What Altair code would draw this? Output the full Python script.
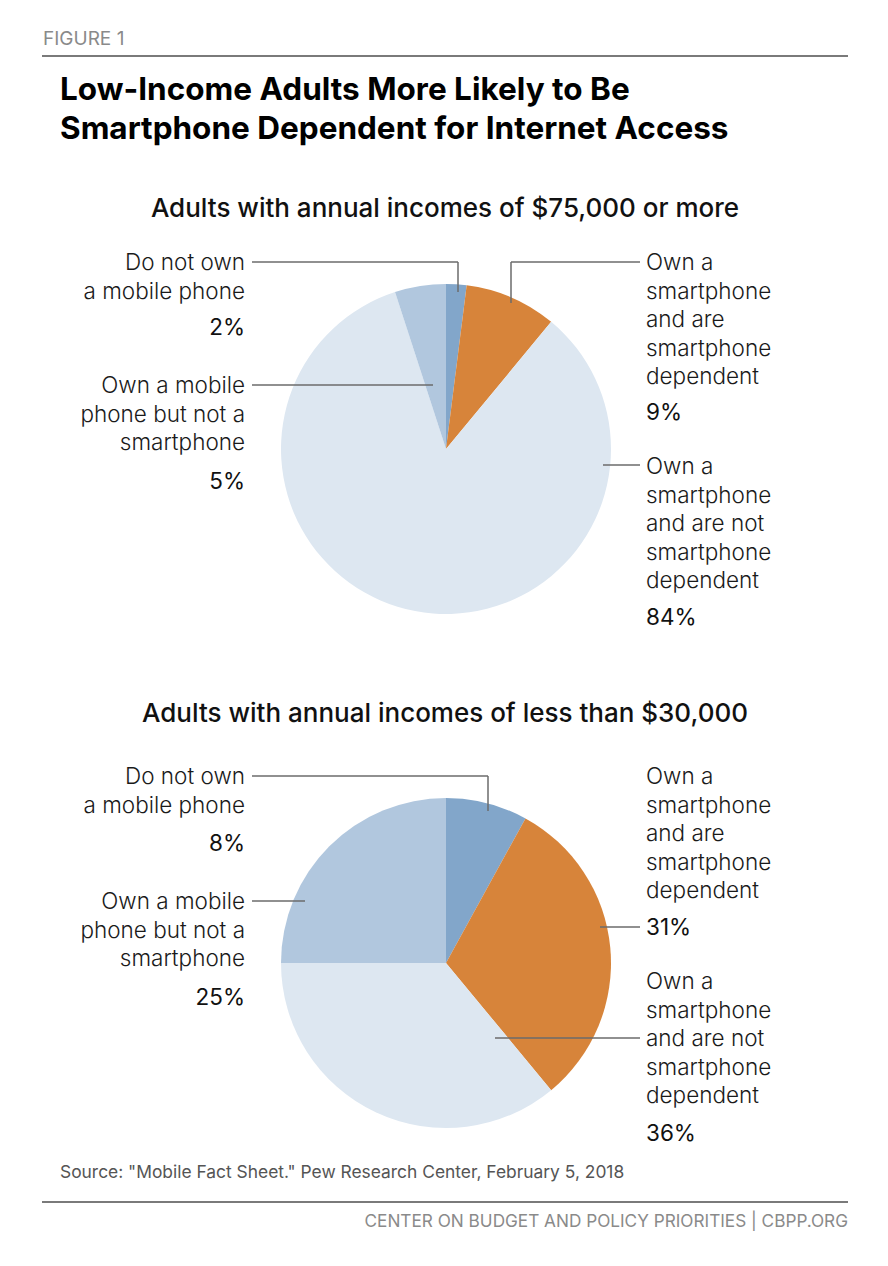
import altair as alt
import pandas as pd

# ---------------- data ----------------
categories = [
    "Do not own a mobile phone",
    "Own a smartphone and are smartphone dependent",
    "Own a smartphone and are not smartphone dependent",
    "Own a mobile phone but not a smartphone",
]
high_income_values = [2, 9, 84, 5]
low_income_values = [8, 31, 36, 25]
slice_colors = ["#82a6ca", "#d7843a", "#dde7f1", "#b1c7de"]

label_left_1 = ["Do not own", "a mobile phone"]
label_left_2 = ["Own a mobile", "phone but not a", "smartphone"]
label_right_1 = ["Own a", "smartphone", "and are", "smartphone", "dependent"]
label_right_2 = ["Own a", "smartphone", "and are not", "smartphone", "dependent"]

title_lines = ["Low-Income Adults More Likely to Be", "Smartphone Dependent for Internet Access"]
subtitle_high = "Adults with annual incomes of $75,000 or more"
subtitle_low = "Adults with annual incomes of less than $30,000"
figure_label = "FIGURE 1"
source_text = 'Source: "Mobile Fact Sheet." Pew Research Center, February 5, 2018'
footer_text = "CENTER ON BUDGET AND POLICY PRIORITIES | CBPP.ORG"

# ---------------- layout ----------------
W, H = 872, 1250
OFF = 8  # page margin
FONT = "Inter"
R = 165
pies = [(446, 449), (446, 963)]
LH = 28.6
LABEL_SIZE = 22.5


def P(v):
    return v - OFF


def pie_df(values):
    return pd.DataFrame({
        "cat": categories,
        "value": values,
        "idx": list(range(len(categories))),
    })


def pct(v):
    return f"{v}%"


def lines_rows(x, y0, lines):
    return [{"x": P(x), "y": P(y0 + i * LH), "text": t} for i, t in enumerate(lines)]


X = alt.X("x:Q", scale=None, axis=None)
Y = alt.Y("y:Q", scale=None, axis=None)

layers = []

# pies
for (cx, cy), vals in zip(pies, [high_income_values, low_income_values]):
    layers.append(
        alt.Chart(pie_df(vals)).mark_arc(radius=R).encode(
            theta=alt.Theta("value:Q", stack=True),
            color=alt.Color("cat:N", scale=alt.Scale(domain=categories, range=slice_colors), legend=None),
            order=alt.Order("idx:Q"),
            x=alt.value(P(cx)),
            y=alt.value(P(cy)),
        )
    )

# leader lines (page coords) : x, y, x2, y2
segments = [
    # top pie
    (252, 262, 458, 262), (458, 262, 458, 292),
    (640, 262, 511, 262), (511, 262, 511, 303),
    (252, 385, 433, 385),
    (603, 465, 640, 465),
    # bottom pie
    (252, 776, 488, 776), (488, 776, 488, 811),
    (252, 901, 305, 901),
    (600, 927, 640, 927),
    (495, 1038, 640, 1038),
]
seg_df = pd.DataFrame([{"x": P(a), "y": P(b), "x2": P(c), "y2": P(d)} for a, b, c, d in segments])
layers.append(
    alt.Chart(seg_df).mark_rule(color="#6b6b6b", strokeWidth=1.5).encode(
        x=X, y=Y, x2="x2:Q", y2="y2:Q"
    )
)

# horizontal rules
rules_df = pd.DataFrame([{"x": P(42), "x2": P(848), "y": P(56)}, {"x": P(42), "x2": P(848), "y": P(1202)}])
layers.append(
    alt.Chart(rules_df).mark_rule(color="#7a7a7a", strokeWidth=2).encode(x=X, x2="x2:Q", y=Y)
)


def text_layer(df, align, size, weight, color, **kw):
    return alt.Chart(df).mark_text(
        align=align, baseline="alphabetic", font=FONT, fontSize=size, fontWeight=weight,
        color=color, **kw,
    ).encode(x=X, y=Y, text="text:N")


# category labels on the left (right-aligned)
left_labels = pd.DataFrame(
    lines_rows(245, 270, label_left_1) + lines_rows(245, 393, label_left_2)
    + lines_rows(245, 784, label_left_1) + lines_rows(245, 909, label_left_2)
)
left_pcts = pd.DataFrame([
    {"x": P(245), "y": P(335), "text": pct(high_income_values[0])},
    {"x": P(245), "y": P(489), "text": pct(high_income_values[3])},
    {"x": P(245), "y": P(851), "text": pct(low_income_values[0])},
    {"x": P(245), "y": P(1005), "text": pct(low_income_values[3])},
])
# category labels on the right (left-aligned)
right_labels = pd.DataFrame(
    lines_rows(646, 270, label_right_1) + lines_rows(646, 474, label_right_2)
    + lines_rows(646, 784, label_right_1) + lines_rows(646, 989, label_right_2)
)
right_pcts = pd.DataFrame([
    {"x": P(646), "y": P(420), "text": pct(high_income_values[1])},
    {"x": P(646), "y": P(625), "text": pct(high_income_values[2])},
    {"x": P(646), "y": P(935), "text": pct(low_income_values[1])},
    {"x": P(646), "y": P(1141), "text": pct(low_income_values[2])},
])

layers.append(text_layer(left_labels, "right", LABEL_SIZE, 300, "#1a1a1a"))
layers.append(text_layer(left_pcts, "right", LABEL_SIZE, 400, "#111111"))
layers.append(text_layer(right_labels, "left", LABEL_SIZE, 300, "#1a1a1a"))
layers.append(text_layer(right_pcts, "left", LABEL_SIZE, 400, "#111111"))

# subtitles
sub_df = pd.DataFrame([
    {"x": P(445), "y": P(217), "text": subtitle_high},
    {"x": P(445), "y": P(722), "text": subtitle_low},
])
layers.append(text_layer(sub_df, "center", 26, 500, "#111111"))

# title
title_df = pd.DataFrame([
    {"x": P(60), "y": P(100), "text": title_lines[0]},
    {"x": P(60), "y": P(139), "text": title_lines[1]},
])
layers.append(text_layer(title_df, "left", 31.5, "bold", "#000000"))

# figure label
fig_df = pd.DataFrame([{"x": P(43), "y": P(45), "text": figure_label}])
layers.append(text_layer(fig_df, "left", 19, 400, "#8a8a8a"))

# source
src_df = pd.DataFrame([{"x": P(60), "y": P(1178), "text": source_text}])
layers.append(text_layer(src_df, "left", 17.4, 400, "#555555"))

# footer
foot_df = pd.DataFrame([{"x": P(848), "y": P(1227), "text": footer_text}])
layers.append(text_layer(foot_df, "right", 17.2, 400, "#8a8a8a"))

chart = alt.layer(*layers).properties(
    width=W, height=H, padding=0, autosize=alt.AutoSizeParams(type="none"), background="white"
).configure_view(stroke=None)

chart.save("out.html", embed_options={"renderer": "svg", "actions": False})
